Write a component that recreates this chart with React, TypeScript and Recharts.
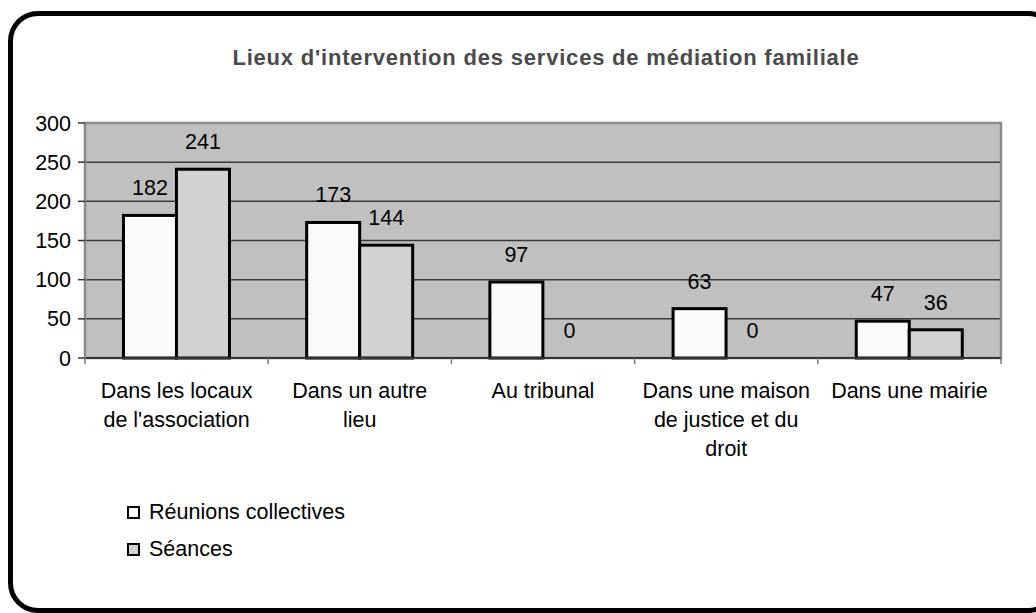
import React from "react";
import { BarChart, Bar, XAxis, YAxis, CartesianGrid, Legend, ReferenceArea } from "recharts";

const categories = [
  "Dans les locaux de l'association",
  "Dans un autre lieu",
  "Au tribunal",
  "Dans une maison de justice et du droit",
  "Dans une mairie",
];
const categoryLines: string[][] = [
  ["Dans les locaux", "de l'association"],
  ["Dans un autre", "lieu"],
  ["Au tribunal"],
  ["Dans une maison", "de justice et du", "droit"],
  ["Dans une mairie"],
];
const reunions = [182, 173, 97, 63, 47];
const seances = [241, 144, 0, 0, 36];
const yTicks = [0, 50, 100, 150, 200, 250, 300];
const seriesNames = ["Réunions collectives", "Séances"];
const seriesKeys = ["reunions", "seances"];
const seriesColors = ["#fafafa", "#d2d2d2"];

const data = categories.map((c, i) => ({ name: c, reunions: reunions[i], seances: seances[i] }));

const FONT = "'Liberation Sans', Arial, sans-serif";
const FS = 21.5;

function CategoryTick(props: any) {
  const { x, y, payload, index } = props;
  const idx = payload?.index ?? index;
  const lines = categoryLines[idx] || [String(payload.value)];
  const half = payload?.offset ?? 0;
  return (
    <g>
      <line x1={x - half} x2={x - half} y1={y} y2={y + 6} stroke="#777" strokeWidth={1.5} />
      {idx === categories.length - 1 && (
        <line x1={x + half} x2={x + half} y1={y} y2={y + 6} stroke="#777" strokeWidth={1.5} />
      )}
      <text x={x} y={y + 40} textAnchor="middle" fill="#000" fontSize={FS} fontFamily={FONT}>
        {lines.map((l, i) => (
          <tspan key={i} x={x} dy={i === 0 ? 0 : 29}>
            {l}
          </tspan>
        ))}
      </text>
    </g>
  );
}

function makeBarShape(key: string) {
  return function BarShape(props: any) {
    const { x, y, width, height, fill, payload } = props;
    const v = payload ? payload[key] : props.value;
    return (
      <g>
        {height > 0 && (
          <rect x={x} y={y} width={width} height={height} fill={fill} stroke="#000" strokeWidth={3} />
        )}
        <text x={x + width / 2} y={y - 20} textAnchor="middle" fill="#000" fontSize={FS} fontFamily={FONT}>
          {v}
        </text>
      </g>
    );
  };
}

function LegendContent() {
  return (
    <div style={{ fontFamily: FONT, fontSize: FS, color: "#000" }}>
      {seriesNames.map((n, i) => (
        <div key={n} style={{ display: "flex", alignItems: "center", height: 37 }}>
          <div
            style={{
              width: 9,
              height: 9,
              border: "2.5px solid #000",
              background: seriesColors[i],
              marginRight: 9,
            }}
          />
          <span>{n}</span>
        </div>
      ))}
    </div>
  );
}

export default function App() {
  return (
    <div
      style={{
        position: "absolute",
        left: 0,
        top: 0,
        width: 1036,
        height: 613,
        overflow: "hidden",
        background: "#fff",
      }}
    >
      <div
        style={{
          position: "absolute",
          boxSizing: "border-box",
          left: 8,
          top: 11,
          width: 1050,
          height: 602,
          border: "5px solid #000",
          borderRadius: 30,
        }}
      />
      <div
        style={{
          position: "absolute",
          left: 0,
          width: 1092,
          top: 45,
          textAlign: "center",
          fontFamily: FONT,
          fontSize: 22,
          fontWeight: "bold",
          color: "#4a4a4a",
          letterSpacing: 0.8,
          whiteSpace: "nowrap",
        }}
      >
        Lieux d'intervention des services de médiation familiale
      </div>
      <div style={{ position: "absolute", left: 0, top: 0 }}>
        <BarChart
          width={1036}
          height={613}
          data={data}
          margin={{ top: 123, right: 35, bottom: 155, left: 25 }}
          barCategoryGap="21%"
          barGap={0}
        >
          <CartesianGrid vertical={false} fill="#c0c0c0" fillOpacity={1} stroke="#3a3a3a" strokeWidth={1.5} />
          <ReferenceArea y1={0} y2={300} fill="none" stroke="#8a8a8a" strokeWidth={2.5} ifOverflow="visible" />
          <XAxis
            dataKey="name"
            interval={0}
            height={100}
            tickLine={false}
            tickSize={0}
            tickMargin={0}
            axisLine={{ stroke: "#333", strokeWidth: 2 }}
            tick={<CategoryTick />}
          />
          <YAxis
            width={60}
            domain={[0, 300]}
            ticks={yTicks}
            interval={0}
            tickSize={7}
            tickMargin={7}
            tickLine={{ stroke: "#333", strokeWidth: 1.5 }}
            axisLine={{ stroke: "#8a8a8a", strokeWidth: 2 }}
            tick={{ fill: "#000", fontSize: FS, fontFamily: FONT }}
          />
          <Legend
            layout="vertical"
            align="center"
            verticalAlign="middle"
            content={<LegendContent />}
            wrapperStyle={{ left: 127, top: 494, width: 300 }}
          />
          <Bar
            dataKey={seriesKeys[0]}
            name={seriesNames[0]}
            fill={seriesColors[0]}
            stroke="#000"
            strokeWidth={3}
            isAnimationActive={false}
            shape={makeBarShape(seriesKeys[0])}
          />
          <Bar
            dataKey={seriesKeys[1]}
            name={seriesNames[1]}
            fill={seriesColors[1]}
            stroke="#000"
            strokeWidth={3}
            isAnimationActive={false}
            shape={makeBarShape(seriesKeys[1])}
          />
        </BarChart>
      </div>
    </div>
  );
}
